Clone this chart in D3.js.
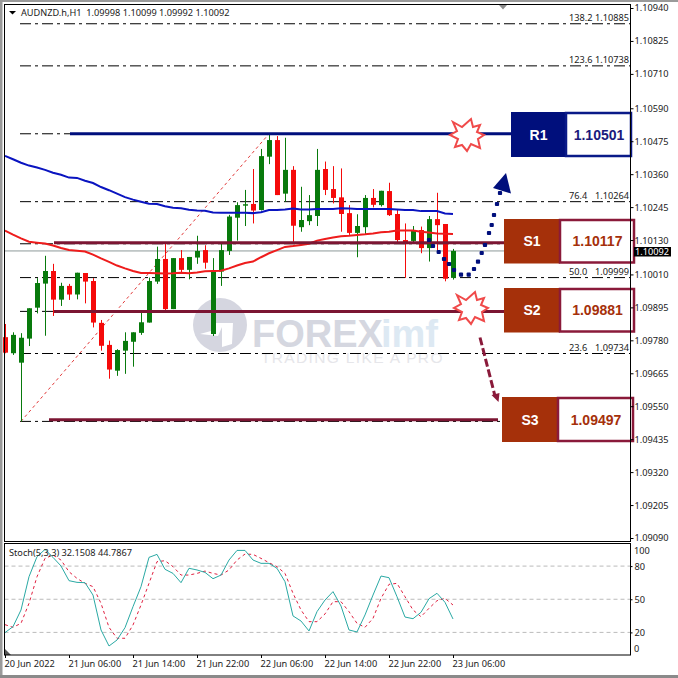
<!DOCTYPE html>
<html><head><meta charset="utf-8">
<script src="https://d3js.org/d3.v7.min.js"></script>
<style>
html,body{margin:0;padding:0;background:#fff}
svg{display:block}
text{font-family:"Noto Sans","Open Sans",sans-serif;font-size:9.2px;fill:#222}
.box{font-family:"Liberation Sans",Arial,sans-serif;font-weight:bold}
</style></head><body>
<script>
const barCount = 57;
const opens = [109791,109735,109702,109786,109894,109978,110022,109922,109970,109940,110015,109987,109841,109764,109674,109744,109775,109806,109842,109985,110064,109889,110067,110026,110069,110095,109802,110020,110092,110208,110250,110256,110235,110421,110479,110292,110375,110175,110196,110214,110378,110308,110279,110224,110155,110175,110277,110252,110301,110221,110130,110127,110165,110102,110203,110186,109998];
const highs = [109837,109808,109805,109892,109997,110075,110047,109981,109977,110016,110015,109997,109851,109779,109749,109808,109808,109878,109999,110107,110119,110067,110095,110071,110145,110112,110067,110119,110218,110262,110305,110378,110448,110497,110493,110487,110388,110316,110287,110448,110404,110388,110380,110252,110220,110287,110308,110302,110330,110237,110188,110179,110177,110214,110295,110186,110099];
const lows = [109735,109729,109496,109760,109874,109796,109865,109900,109921,109923,109909,109825,109744,109646,109656,109663,109688,109799,109842,109977,109886,109889,110016,109993,110047,110030,109795,109970,110078,110128,110179,110188,110233,110395,110287,110264,110124,110159,110182,110179,110287,110258,110159,110148,110070,110148,110244,110247,110214,110121,109998,110121,110084,110055,110095,109986,109992];
const closes = [109737,109799,109789,109892,109980,110022,109922,109970,109940,110016,109985,109842,109761,109678,109746,109778,109808,109843,109987,110064,109889,110067,110026,110071,110092,110051,110020,110095,110212,110252,110255,110233,110423,110479,110287,110375,110180,110200,110217,110375,110305,110277,110221,110155,110179,110277,110253,110302,110217,110130,110116,110165,110102,110203,110182,109995,110092];
const maBlue = [110424,110412,110400,110390,110383,110375,110365,110358,110348,110347,110337,110329,110315,110304,110292,110280,110271,110264,110257,110256,110248,110243,110241,110236,110233,110232,110226,110225,110225,110225,110225,110224,110227,110235,110235,110237,110240,110237,110237,110238,110238,110238,110241,110240,110238,110238,110238,110238,110238,110237,110235,110235,110231,110231,110231,110223,110221];
const maRed = [110163,110149,110136,110124,110121,110118,110111,110102,110095,110093,110090,110079,110066,110054,110041,110031,110022,110015,110015,110014,110013,110014,110016,110014,110017,110021,110022,110023,110031,110041,110050,110055,110070,110084,110095,110106,110109,110113,110117,110128,110134,110139,110143,110145,110148,110150,110153,110157,110159,110163,110163,110163,110159,110156,110153,110152,110151];
const stochMain = [19.8,25.2,40.3,70.4,88.5,95.1,87.9,80.1,66.8,65.3,65,53.8,22.2,7.7,13.1,24.3,43.3,61.4,87.9,90.6,77.1,73.4,65,78,76.5,74.3,68.6,71.9,85.5,94.2,94.2,85.5,82.5,82.5,78,65.9,34.9,30.3,21.3,38.8,49.3,56.9,43.9,22.2,20.4,35.8,53.8,71,69.5,52.3,33.9,32.4,38.2,50.5,55.4,47.2,32.15];
const stochSignal = [27,24.6,28.2,46.3,70.4,87,90,85.5,74.9,68.9,64.4,61.4,46.3,24.6,14.7,14.7,26.7,44.8,64.4,84,84.9,79.5,71.9,71.9,73.4,75.5,73.4,71.9,76.5,85.5,90.9,90.6,87,83.1,79.5,73.4,55.4,40.3,29.7,29.7,36.7,47.8,47.8,38.8,28.2,24.6,32.7,50.8,63.5,64.4,52.3,40.3,34.2,41.8,48.7,50.8,44.79];
const priceTicks = [1.10940,1.10825,1.10710,1.10590,1.10475,1.10360,1.10245,1.10130,1.10010,1.09895,1.09780,1.09665,1.09550,1.09435,1.09320,1.09205,1.09090];
const stochTicks = [80,50,20];
const timeIndex = [0,8,16,24,32,40,48,56];
const timeLabels = ["20 Jun 2022","21 Jun 06:00","21 Jun 14:00","21 Jun 22:00","22 Jun 06:00","22 Jun 14:00","22 Jun 22:00","23 Jun 06:00"];
const fibLevels = [1.10885,1.10738,1.10501,1.10264,1.10117,1.09999,1.09881,1.09734,1.09497];
const fibNames = ["138.2","123.6","","76.4","","50.0","","23.6",""];
const fibShown = ["1.10885","1.10738","","1.10264","","1.09999","","1.09734",""];
const levelNames = ["R1","S1","S2","S3"];
const levelTexts = ["1.10501","1.10117","1.09881","1.09497"];
const levelPrices = [1.10501,1.10121,1.09881,1.09503];
const currentPrice = 1.10092;

const W=678,H=678, paneL=4.5, paneR=630.5, mainT=4.5, mainB=541.5, stT=543.5, stB=655;
const svg=d3.select("body").append("svg").attr("width",W).attr("height",H);
const x=d3.scaleLinear().domain([0,barCount-1]).range([5,5+8*(barCount-1)]);
const y=d3.scaleLinear().domain([1.09090,1.10940]).range([538,8]);
const yS=d3.scaleLinear().domain([0,100]).range([654.5,544]);
const p=v=>y(v/100000);

// window frame
svg.append("rect").attr("width",W).attr("height",H).attr("fill","#fff");
svg.append("rect").attr("width",W).attr("height",2).attr("fill","#9a9a9a");
svg.append("rect").attr("width",2.5).attr("height",H).attr("fill","#9a9a9a");
svg.append("rect").attr("y",675).attr("width",W).attr("height",3).attr("fill","#8a8a8a");

// watermark
const wm=svg.append("g");
wm.append("circle").attr("cx",220).attr("cy",325).attr("r",27).attr("fill","#d5d6e0");
wm.append("path").attr("fill","#fff").attr("d","M200,334 L218,336 L222,327 L222,347 L232,344 L233,323 L214,323 L211,331 Z");
wm.append("text").attr("x",252).attr("y",346.5).attr("class","box").style("font-size","38px").style("fill","#d5d7e0").text("FOREX");
wm.append("text").attr("x",381).attr("y",346.5).attr("class","box").style("font-size","38px").style("fill","#dde9f3").text("imf");
wm.append("text").attr("x",261).attr("y",363).attr("class","box").style("font-size","15.5px").style("font-weight","normal").style("letter-spacing","1.35px").style("fill","#e6e6ea").text("TRADING LIKE A PRO");

// fib lines
svg.append("g").selectAll("line").data(fibLevels).join("line")
  .attr("x1",20).attr("x2",paneR).attr("y1",d=>y(d)).attr("y2",d=>y(d))
  .attr("stroke","#000").attr("stroke-width",1).attr("stroke-dasharray","11,4,3,4");
svg.append("g").selectAll("text").data(fibNames.map((n,i)=>[n,fibShown[i],fibLevels[i]]).filter(d=>d[0])).join("text")
  .attr("x",d=>569).attr("y",d=>y(d[2])-3).text(d=>d[0]);
svg.append("g").selectAll("text").data(fibNames.map((n,i)=>[n,fibShown[i],fibLevels[i]]).filter(d=>d[0])).join("text")
  .attr("x",629).attr("y",d=>y(d[2])-3).attr("text-anchor","end").text(d=>d[1]);
// fib trend
svg.append("line").attr("x1",x(2)).attr("y1",y(fibLevels[8])).attr("x2",x(33)).attr("y2",y(fibLevels[2]))
  .attr("stroke","#e23a3a").attr("stroke-width",1).attr("stroke-dasharray","3,3");
// current price line
svg.append("line").attr("x1",paneL).attr("x2",paneR).attr("y1",y(currentPrice)).attr("y2",y(currentPrice)).attr("stroke","#8d9a9a").attr("stroke-width",1);

// candles
const idx=d3.range(barCount);
const up=i=>closes[i]>=opens[i];
const col=i=>up(i)?"#087a0c":"#f50a0a";
svg.append("g").selectAll("line").data(idx).join("line")
  .attr("x1",i=>x(i)+.5).attr("x2",i=>x(i)+.5).attr("y1",i=>p(highs[i])).attr("y2",i=>p(lows[i]))
  .attr("stroke",col).attr("stroke-width",1);
svg.append("g").selectAll("rect").data(idx).join("rect")
  .attr("x",i=>x(i)-2).attr("width",5)
  .attr("y",i=>Math.min(p(opens[i]),p(closes[i])))
  .attr("height",i=>Math.max(1,Math.abs(p(opens[i])-p(closes[i]))))
  .attr("fill",col);

// moving averages
const ln=d3.line().x((d,i)=>x(i)).y(d=>p(d));
svg.append("path").attr("d",ln(maBlue)).attr("fill","none").attr("stroke","#0a14c0").attr("stroke-width",2);
svg.append("path").attr("d",ln(maRed)).attr("fill","none").attr("stroke","#ee1c1c").attr("stroke-width",2);

// levels
const lvlX=[[70,511],[54,504],[54,504],[49,498]];
const lvlCol=["#000f7c","#7b1532","#7b1532","#7b1532"];
svg.append("g").selectAll("line").data(levelPrices).join("line")
  .attr("x1",(d,i)=>lvlX[i][0]).attr("x2",(d,i)=>lvlX[i][1]).attr("y1",d=>y(d)).attr("y2",d=>y(d))
  .attr("stroke",(d,i)=>lvlCol[i]).attr("stroke-width",3);

// bursts
const burst=[[-15,-13],[-6,-8],[3,-16],[5,-8],[12,-10],[9,-3],[16,0],[10,4],[12,13],[3,9],[-1,16],[-6,10],[-13,12],[-10,4],[-18,0],[-11,-4]];
[[468,135],[472,308]].forEach(c=>{
  svg.append("polygon").attr("points",burst.map(b=>[c[0]+b[0],c[1]+b[1]].join(",")).join(" "))
    .attr("fill","#fff").attr("stroke","#f04a4a").attr("stroke-width",2);
});

// arrows
const blueDots=[[429,240],[433,246],[438.7,252],[444,259],[449,264],[454,270],[461,274.7],[468.7,274.7],[474,269],[478,261.7],[481.7,253],[485,245],[489,233],[491.7,225],[494,215],[497,204],[500,193]];
svg.append("g").selectAll("rect").data(blueDots).join("rect")
  .attr("x",d=>d[0]-2.1).attr("y",d=>d[1]-2.1).attr("width",4.2).attr("height",4.2).attr("rx",1).attr("fill","#000f7c");
svg.append("polygon").attr("points","506,173 493,188 511,193.5").attr("fill","#000f7c");
svg.append("line").attr("x1",480).attr("y1",337.5).attr("x2",495).attr("y2",396).attr("stroke","#8a1a3a").attr("stroke-width",3).attr("stroke-dasharray","8,3");
svg.append("polygon").attr("points","498.5,402 491.5,395 499.5,393").attr("fill","#8a1a3a");

// annotation boxes
const boxX=[[511,566,632],[504,560,635],[504,560,635],[502,558,634]];
const boxY=[[112,157],[219,263.5],[288,332.5],[397,442]];
const boxFill=["#000f7c","#a5300a","#a5300a","#a5300a"];
const boxLine=["#0a1a88","#8a1a3a","#8a1a3a","#8a1a3a"];
const boxText=["#1a1a7c","#a5300a","#a5300a","#a5300a"];
levelNames.forEach((n,i)=>{
  const g=svg.append("g");
  g.append("rect").attr("x",boxX[i][0]).attr("y",boxY[i][0]).attr("width",boxX[i][1]-boxX[i][0]).attr("height",boxY[i][1]-boxY[i][0]).attr("fill",boxFill[i]);
  g.append("rect").attr("x",boxX[i][1]).attr("y",boxY[i][0]+1).attr("width",boxX[i][2]-boxX[i][1]-1).attr("height",boxY[i][1]-boxY[i][0]-2).attr("fill","#fff").attr("stroke",boxLine[i]).attr("stroke-width",2.5);
  const cy=(boxY[i][0]+boxY[i][1])/2+5;
  g.append("text").attr("class","box").attr("x",(boxX[i][0]+boxX[i][1])/2).attr("y",cy).attr("text-anchor","middle").style("font-size","14px").style("fill","#fff").text(n);
  g.append("text").attr("class","box").attr("x",(boxX[i][1]+boxX[i][2])/2).attr("y",cy).attr("text-anchor","middle").style("font-size","14px").style("fill",boxText[i]).text(levelTexts[i]);
});

// stochastic pane
svg.append("g").selectAll("line").data(stochTicks).join("line")
  .attr("x1",paneL).attr("x2",paneR).attr("y1",d=>yS(d)).attr("y2",d=>yS(d))
  .attr("stroke","#bbb").attr("stroke-width",1).attr("stroke-dasharray","4,3");
const lnS=d3.line().x((d,i)=>x(i)).y(d=>yS(d));
svg.append("path").attr("d",lnS(stochSignal)).attr("fill","none").attr("stroke","#e02040").attr("stroke-width",1).attr("stroke-dasharray","3,3");
svg.append("path").attr("d",lnS(stochMain)).attr("fill","none").attr("stroke","#2aa9a4").attr("stroke-width",1);
svg.append("polygon").attr("points","5,649 5,655 11,655").attr("fill","#555");

// pane frames
[[mainT,mainB],[stT,stB]].forEach(b=>svg.append("rect").attr("x",paneL).attr("y",b[0]).attr("width",paneR-paneL).attr("height",b[1]-b[0]).attr("fill","none").attr("stroke","#000").attr("stroke-width",1));

// axes
const axP=d3.axisRight(y).tickValues(priceTicks).tickSize(3).tickPadding(1).tickFormat(d3.format(".5f"));
const gP=svg.append("g").attr("transform",`translate(${paneR},0)`).call(axP);
gP.select(".domain").remove();
gP.selectAll("text").style("font-family",'"Noto Sans","Open Sans",sans-serif').style("font-size","9.2px").style("fill","#222");
gP.selectAll("line").attr("stroke","#000");

const axT=d3.axisBottom(x).tickValues(timeIndex).tickSize(3).tickPadding(2).tickFormat((d,i)=>timeLabels[i]);
const gT=svg.append("g").attr("transform",`translate(0,${stB})`).call(axT);
gT.select(".domain").remove();
gT.selectAll("text").attr("text-anchor","start").attr("dx",-1).style("font-family",'"Noto Sans","Open Sans",sans-serif').style("font-size","9.2px").style("fill","#222");
gT.selectAll("line").attr("stroke","#000");

const gS=svg.append("g").attr("transform",`translate(${paneR},0)`).call(d3.axisRight(yS).tickValues([80,50,20]).tickSize(2).tickPadding(2));
gS.select(".domain").remove();
gS.selectAll("text").style("font-family",'"Noto Sans","Open Sans",sans-serif').style("font-size","9.2px").style("fill","#222");
gS.selectAll("line").attr("stroke","#000");
svg.append("text").attr("x",634).attr("y",553.5).text("100");
svg.append("text").attr("x",634).attr("y",651.5).text("0");

// current price tag
svg.append("rect").attr("x",634).attr("y",247).attr("width",37).attr("height",9.5).attr("fill","#000");
svg.append("text").attr("x",635).attr("y",255).text("1.10092").style("fill","#fff");

// titles
svg.append("polygon").attr("points","9,11 16,11 12.5,14.5").attr("fill","#000");
svg.append("text").attr("x",21).attr("y",16).text("AUDNZD.h,H1  1.09998 1.10099 1.09992 1.10092").attr("xml:space","preserve");
svg.append("text").attr("x",9).attr("y",556).text("Stoch(5,3,3) 32.1508 44.7867");
svg.append("polygon").attr("points","499,5 507,5 503,9.5").attr("fill","#8c8c8c");
</script></body></html>
